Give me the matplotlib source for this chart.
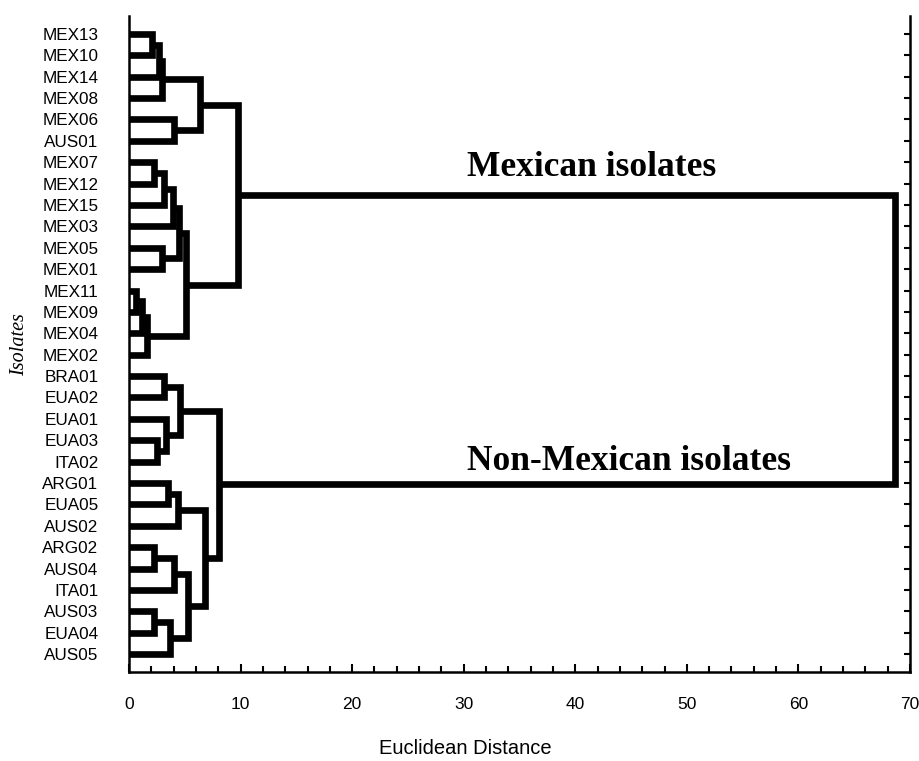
import matplotlib
matplotlib.use("Agg")
import matplotlib.pyplot as plt
from matplotlib.ticker import MultipleLocator

# leaves, top to bottom
isolates = ["MEX13", "MEX10", "MEX14", "MEX08", "MEX06", "AUS01", "MEX07", "MEX12",
            "MEX15", "MEX03", "MEX05", "MEX01", "MEX11", "MEX09", "MEX04", "MEX02",
            "BRA01", "EUA02", "EUA01", "EUA03", "ITA02", "ARG01", "EUA05", "AUS02",
            "ARG02", "AUS04", "ITA01", "AUS03", "EUA04", "AUS05"]

# linkage: names are leaves, ints are earlier merges
merge_a = ["MEX13", 0, 1, "MEX06", 2,
           "MEX07", 5, 6, "MEX05", 7,
           "MEX11", 10, 11, 9, 4,
           "BRA01", "EUA03", "EUA01", 15,
           "ARG01", 19, "ARG02", 21, "AUS03", 23, 22, 20, 18, 14]
merge_b = ["MEX10", "MEX14", "MEX08", "AUS01", 3,
           "MEX12", "MEX15", "MEX03", "MEX01", 8,
           "MEX09", "MEX04", "MEX02", 12, 13,
           "EUA02", "ITA02", 16, 17,
           "EUA05", "AUS02", "AUS04", "ITA01", "EUA04", "AUS05", 24, 25, 26, 27]
merge_d = [2.1, 2.7, 3.0, 4.0, 6.4,
           2.2, 3.1, 3.9, 3.0, 4.5,
           0.6, 1.2, 1.6, 5.1, 9.8,
           3.1, 2.5, 3.3, 4.6,
           3.5, 4.4, 2.2, 4.0, 2.2, 3.7, 5.3, 6.8, 8.1, 68.7]

fig = plt.figure(figsize=(9.19, 7.61), dpi=100)
ax = fig.add_axes([129 / 919, 1 - 672 / 761, (910 - 129) / 919, (672 - 16) / 761])

pos = {}
for i, name in enumerate(isolates):
    pos[name] = (0.0, i)
node = []
lw = 4.8
for a, b, d in zip(merge_a, merge_b, merge_d):
    xa, ya = pos[a] if isinstance(a, str) else node[a]
    xb, yb = pos[b] if isinstance(b, str) else node[b]
    ax.plot([xa, d, d, xb], [ya, ya, yb, yb], color="black", lw=lw,
            solid_joinstyle="miter", solid_capstyle="butt")
    node.append((d, (ya + yb) / 2))

ax.set_xlim(0, 70)
ax.set_ylim(29.84, -0.84)

ax.set_yticks(range(len(isolates)))
ax.set_yticklabels(isolates, fontsize=12.3, family="Liberation Sans")
ax.tick_params(axis="y", left=False, right=True, direction="in", length=4,
               width=1.5, pad=22)

ax.xaxis.set_major_locator(MultipleLocator(10))
ax.xaxis.set_minor_locator(MultipleLocator(2))
ax.tick_params(axis="x", which="major", direction="in", length=6, width=1.5, pad=18)
ax.tick_params(axis="x", which="minor", direction="in", length=4, width=1.5)
for lab in ax.get_xticklabels():
    lab.set_fontsize(12.5)
    lab.set_family("Liberation Sans")

for side in ["left", "right", "bottom"]:
    ax.spines[side].set_linewidth(1.8)
ax.spines["top"].set_visible(False)

fig.text(465 / 919, 1 - 748 / 761, "Euclidean Distance", ha="center", va="center",
         fontsize=14.5, family="Liberation Sans")
fig.text(20 / 919, 1 - 345 / 761, "Isolates", ha="center", va="center", rotation=90,
         fontsize=14.5, family="Liberation Serif", style="italic")

ax.text(30.3, 6.62, "Mexican isolates", ha="left", va="baseline",
        fontsize=25.5, family="Liberation Serif", weight="bold")
ax.text(30.3, 20.4, "Non-Mexican isolates", ha="left", va="baseline",
        fontsize=25.5, family="Liberation Serif", weight="bold")

fig.savefig("out.png", dpi=100)
